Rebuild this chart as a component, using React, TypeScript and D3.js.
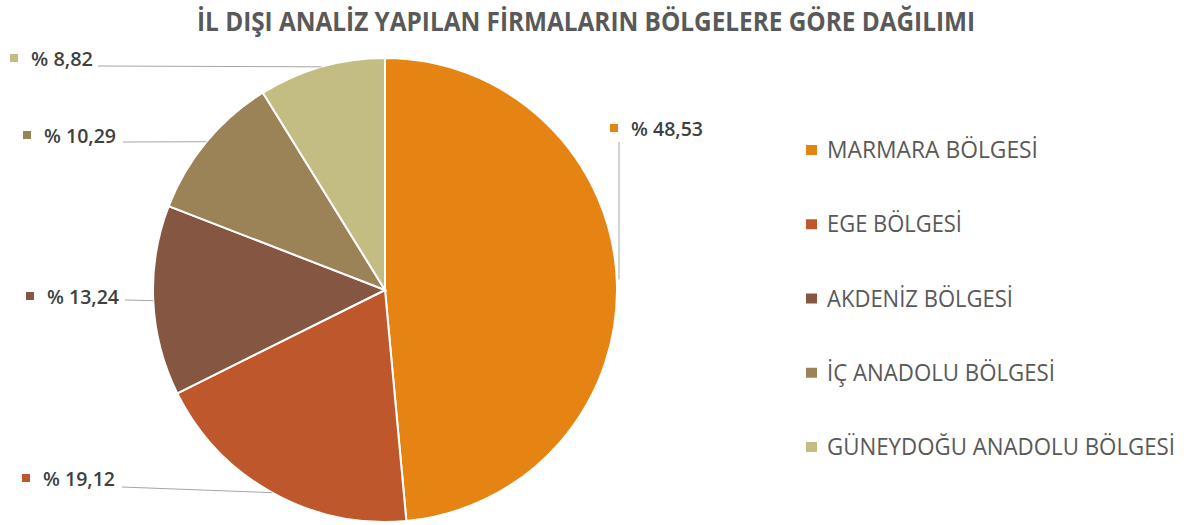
import React from "react";
import * as d3 from "d3";

const TITLE = "İL DIŞI ANALİZ YAPILAN FİRMALARIN BÖLGELERE GÖRE DAĞILIMI";
const regions = ["MARMARA BÖLGESİ", "EGE BÖLGESİ", "AKDENİZ BÖLGESİ", "İÇ ANADOLU BÖLGESİ", "GÜNEYDOĞU ANADOLU BÖLGESİ"];
const shares = [48.53, 19.12, 13.24, 10.29, 8.82];
const labels = ["% 48,53", "% 19,12", "% 13,24", "% 10,29", "% 8,82"];
const colors = ["#E58412", "#BE582C", "#855641", "#9C8257", "#C3BD84"];

// layout: label marker x, text baseline y, leader line start
const labelLayout = [
  { mx: 610, y: 136, lx: 619, ly: 142, vertical: true, w: 72 },
  { mx: 22, y: 486, lx: 122, ly: 487, vertical: false, w: 72 },
  { mx: 26, y: 304, lx: 125, ly: 300, vertical: false, w: 72 },
  { mx: 23, y: 143, lx: 123, ly: 142, vertical: false, w: 72 },
  { mx: 10, y: 66, lx: 98, ly: 66, vertical: false, w: 62 },
];
const legendWidths = [211, 135, 186, 228, 348];

export default function App() {
  const W = 1186, H = 525;
  const cx = 385, cy = 290, r = 232;
  const pie = d3.pie<number>().sort(null).value((d) => d).startAngle(0).endAngle(2 * Math.PI);
  const arcs = pie(shares);
  const arc = d3.arc<d3.PieArcDatum<number>>().innerRadius(0).outerRadius(r);
  const legendY = d3.scalePoint<string>().domain(regions).range([150, 447]);
  const font = "'Open Sans', 'DejaVu Sans', sans-serif";
  return (
    <svg width={W} height={H} style={{ position: "absolute", left: 0, top: 0, background: "#fff" }}>
      <text x={197} y={31} fontFamily={font} fontWeight={700} fontSize={26}
        fill="#595959" textLength={778} lengthAdjust="spacingAndGlyphs">{TITLE}</text>
      <g transform={`translate(${cx},${cy})`}>
        {arcs.map((a, i) => (
          <path key={i} d={arc(a) || ""} fill={colors[i]} stroke="#fff" strokeWidth={2} />
        ))}
      </g>
      {arcs.map((a, i) => {
        const mid = (a.startAngle + a.endAngle) / 2;
        const ex = cx + r * Math.sin(mid);
        const ey = cy - r * Math.cos(mid);
        const L = labelLayout[i];
        return (
          <g key={i}>
            <line x1={L.lx} y1={L.ly} x2={L.vertical ? L.lx : ex} y2={ey} stroke="#A6A6A6" strokeWidth={1} />
            <rect x={L.mx} y={L.y - 12} width={8} height={8} fill={colors[i]} />
            <text x={L.mx + 21} y={L.y} fontFamily={font} fontWeight={600} fontSize={19} fill="#404040"
              textLength={L.w} lengthAdjust="spacingAndGlyphs">{labels[i]}</text>
          </g>
        );
      })}
      {regions.map((name, i) => {
        const y = legendY(name) as number;
        return (
          <g key={name}>
            <rect x={806} y={y - 5} width={11} height={10} fill={colors[i]} />
            <text x={827} y={y + 8} fontFamily={font} fontSize={23} fill="#595959"
              textLength={legendWidths[i]} lengthAdjust="spacingAndGlyphs">{name}</text>
          </g>
        );
      })}
    </svg>
  );
}
